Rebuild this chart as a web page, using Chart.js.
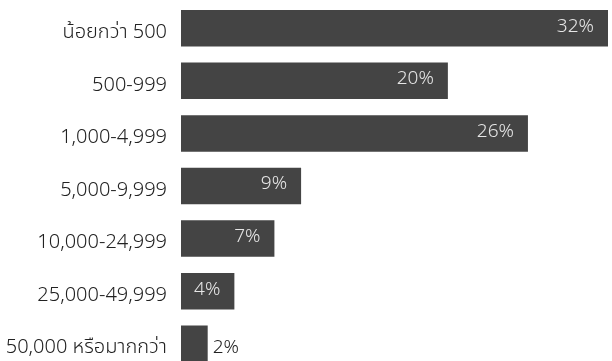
<!DOCTYPE html>
<html>
<head>
<meta charset="utf-8">
<script src="https://cdn.jsdelivr.net/npm/chart.js@4.4.0/dist/chart.umd.min.js"></script>
<style>
  html, body { margin: 0; padding: 0; background: #fff; overflow: hidden; }
  #wrap { width: 612px; height: 370px; }
</style>
</head>
<body>
<div id="wrap"><canvas id="myChart"></canvas></div>
<script>
var categories = ['น้อยกว่า 500', '500-999', '1,000-4,999', '5,000-9,999', '10,000-24,999', '25,000-49,999', '50,000 หรือมากกว่า'];
var shares = [32, 20, 26, 9, 7, 4, 2];

var fontFamily = '"Noto Sans", "Noto Sans Thai", "Leelawadee UI", Tahoma, sans-serif';

// percentage text at the end of each bar, inside when there is room
var barLabels = {
    id: 'barLabels',
    afterDatasetsDraw: function (chart) {
        var ctx = chart.ctx;
        var meta = chart.getDatasetMeta(0);
        ctx.save();
        ctx.font = '300 19px ' + fontFamily;
        ctx.textBaseline = 'middle';
        meta.data.forEach(function (bar, i) {
            var v = shares[i];
            var text = v + '%';
            if (v >= 3) {
                ctx.fillStyle = '#e6e6e6';
                ctx.textAlign = 'right';
                ctx.fillText(text, bar.x - 14, bar.y - 2);
            } else {
                ctx.fillStyle = '#222';
                ctx.textAlign = 'left';
                ctx.fillText(text, bar.x + 5, bar.y + 4);
            }
        });
        ctx.restore();
    }
};

var ctx = document.getElementById('myChart').getContext('2d');
var myChart = new Chart(ctx, {
    type: 'bar',
    data: {
        labels: categories,
        datasets: [{
            data: shares,
            backgroundColor: '#444444',
            categoryPercentage: 1,
            barPercentage: 0.694
        }]
    },
    options: {
        indexAxis: 'y',
        responsive: true,
        maintainAspectRatio: false,
        animation: false,
        layout: { padding: { top: 2, right: 4, bottom: 0, left: 0 } },
        plugins: {
            legend: { display: false },
            tooltip: { enabled: false }
        },
        scales: {
            x: {
                display: false,
                min: 0,
                max: 32
            },
            y: {
                grid: { display: false, drawTicks: false },
                border: { display: false },
                ticks: {
                    color: '#222',
                    padding: 14,
                    labelOffset: 4,
                    font: { size: 20, weight: '300', family: fontFamily }
                },
                afterFit: function (scale) {
                    scale.width = 181;
                    scale.paddingTop = 0;
                    scale.paddingBottom = 0;
                }
            }
        }
    },
    plugins: [barLabels]
});
</script>
</body>
</html>
